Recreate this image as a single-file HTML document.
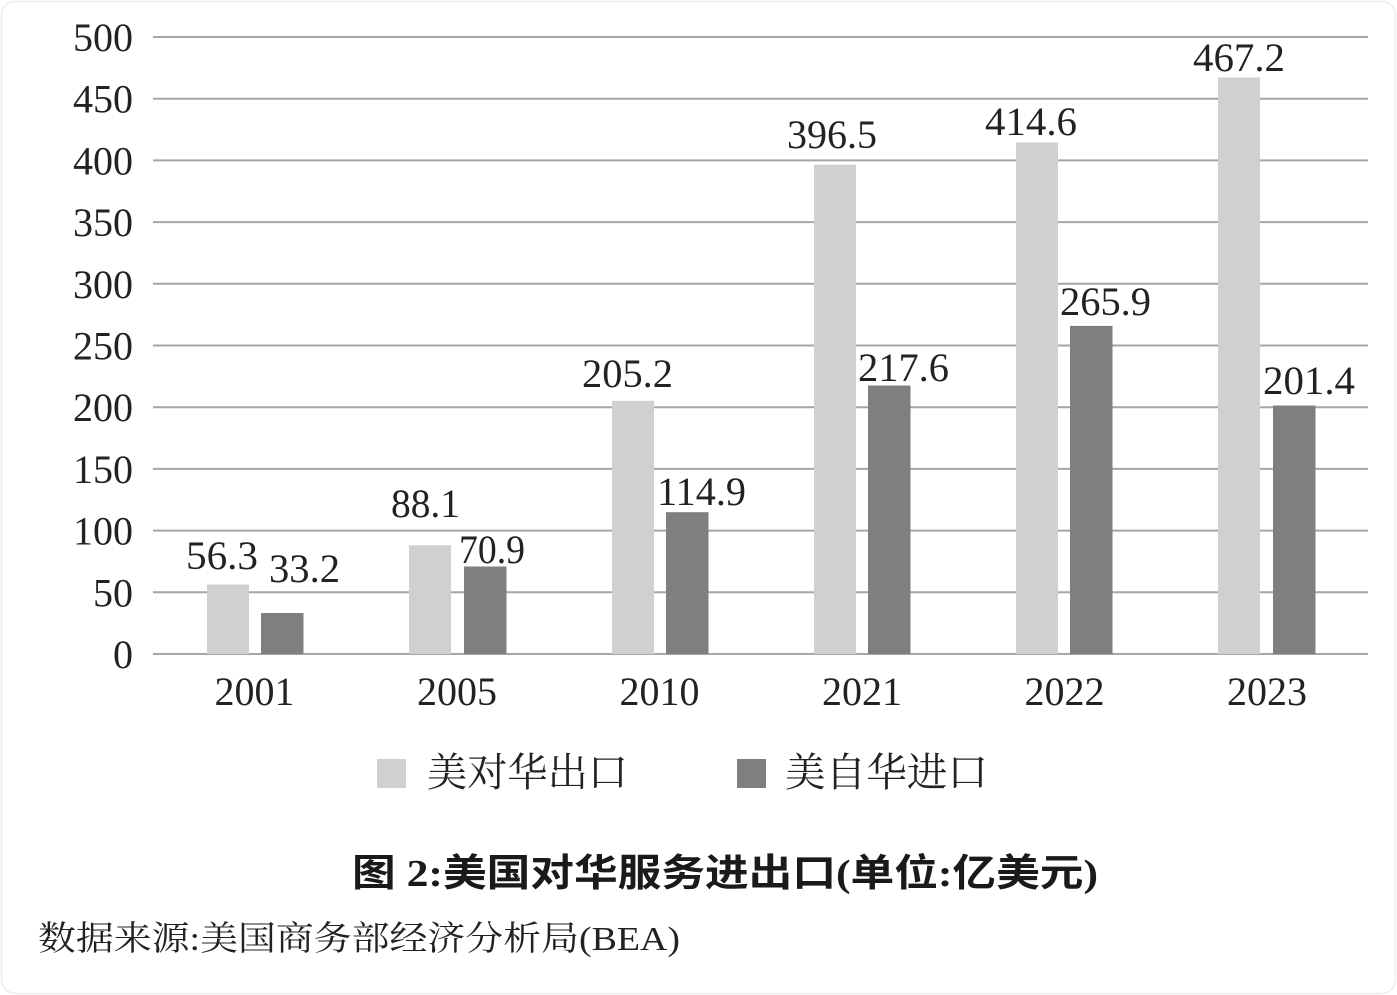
<!DOCTYPE html>
<html>
<head>
<meta charset="utf-8">
<style>
html,body{margin:0;padding:0;background:#fff;}
body{width:1397px;height:995px;overflow:hidden;}
svg{display:block;}
</style>
</head>
<body>
<svg width="1397" height="995" viewBox="0 0 1397 995" xmlns="http://www.w3.org/2000/svg">
  <rect x="1.5" y="1.5" width="1394" height="992" rx="14" ry="14" fill="#fff" stroke="#ececec" stroke-width="1.5"/>

  <!-- gridlines -->
  <g stroke="#a6a6a6" stroke-width="2">
    <line x1="153" y1="37" x2="1368" y2="37"/>
    <line x1="153" y1="98.7" x2="1368" y2="98.7"/>
    <line x1="153" y1="160.4" x2="1368" y2="160.4"/>
    <line x1="153" y1="222.1" x2="1368" y2="222.1"/>
    <line x1="153" y1="283.8" x2="1368" y2="283.8"/>
    <line x1="153" y1="345.5" x2="1368" y2="345.5"/>
    <line x1="153" y1="407.2" x2="1368" y2="407.2"/>
    <line x1="153" y1="468.9" x2="1368" y2="468.9"/>
    <line x1="153" y1="530.6" x2="1368" y2="530.6"/>
    <line x1="153" y1="592.3" x2="1368" y2="592.3"/>
    <line x1="153" y1="654" x2="1368" y2="654"/>
  </g>

  <!-- y axis labels -->
  <g font-family="'Liberation Serif', serif" font-size="40" fill="#222" text-anchor="end">
    <text x="133" y="51">500</text>
    <text x="133" y="112.7">450</text>
    <text x="133" y="174.4">400</text>
    <text x="133" y="236.1">350</text>
    <text x="133" y="297.8">300</text>
    <text x="133" y="359.5">250</text>
    <text x="133" y="421.2">200</text>
    <text x="133" y="482.9">150</text>
    <text x="133" y="544.6">100</text>
    <text x="133" y="606.3">50</text>
    <text x="133" y="668">0</text>
  </g>

  <!-- bars light -->
  <g fill="#d0d0d0">
    <rect x="207" y="584.5" width="42" height="69.5"/>
    <rect x="409" y="545.3" width="42" height="108.7"/>
    <rect x="612" y="400.8" width="42" height="253.2"/>
    <rect x="814" y="164.7" width="42" height="489.3"/>
    <rect x="1016" y="142.4" width="42" height="511.6"/>
    <rect x="1218" y="77.5" width="42" height="576.5"/>
  </g>
  <!-- bars dark -->
  <g fill="#7f7f7f">
    <rect x="261" y="613" width="42.5" height="41"/>
    <rect x="464" y="566.5" width="42.5" height="87.5"/>
    <rect x="666" y="512.2" width="42.5" height="141.8"/>
    <rect x="868" y="385.5" width="42.5" height="268.5"/>
    <rect x="1070" y="325.9" width="42.5" height="328.1"/>
    <rect x="1273" y="405.5" width="42.5" height="248.5"/>
  </g>

  <!-- data labels -->
  <g font-family="'Liberation Serif', serif" font-size="40" fill="#222">
    <text x="186" y="569" textLength="72" lengthAdjust="spacingAndGlyphs">56.3</text>
    <text x="269" y="582" textLength="71" lengthAdjust="spacingAndGlyphs">33.2</text>
    <text x="391" y="517" textLength="69" lengthAdjust="spacingAndGlyphs">88.1</text>
    <text x="459" y="563" textLength="66" lengthAdjust="spacingAndGlyphs">70.9</text>
    <text x="582" y="387" textLength="91" lengthAdjust="spacingAndGlyphs">205.2</text>
    <text x="657" y="505" textLength="89" lengthAdjust="spacingAndGlyphs">114.9</text>
    <text x="787" y="148" textLength="90" lengthAdjust="spacingAndGlyphs">396.5</text>
    <text x="858" y="381" textLength="91" lengthAdjust="spacingAndGlyphs">217.6</text>
    <text x="985" y="135" textLength="92" lengthAdjust="spacingAndGlyphs">414.6</text>
    <text x="1060" y="315" textLength="91" lengthAdjust="spacingAndGlyphs">265.9</text>
    <text x="1193" y="71" textLength="92" lengthAdjust="spacingAndGlyphs">467.2</text>
    <text x="1263" y="394" textLength="92" lengthAdjust="spacingAndGlyphs">201.4</text>
  </g>

  <!-- x axis labels -->
  <g font-family="'Liberation Serif', serif" font-size="40" fill="#222" text-anchor="middle">
    <text x="254.5" y="705">2001</text>
    <text x="457" y="705">2005</text>
    <text x="659.5" y="705">2010</text>
    <text x="862" y="705">2021</text>
    <text x="1064.5" y="705">2022</text>
    <text x="1267" y="705">2023</text>
  </g>

  <!-- legend -->
  <rect x="377" y="759" width="29" height="29" fill="#d0d0d0"/>
  <text x="427" y="786" font-family="'Liberation Serif','Noto Serif CJK SC','Noto Sans CJK SC',serif" font-size="40" fill="#222" textLength="201" lengthAdjust="spacingAndGlyphs">美对华出口</text>
  <rect x="737" y="759" width="29" height="29" fill="#7f7f7f"/>
  <text x="785" y="786" font-family="'Liberation Serif','Noto Serif CJK SC','Noto Sans CJK SC',serif" font-size="40" fill="#222" textLength="203" lengthAdjust="spacingAndGlyphs">美自华进口</text>

  <!-- title -->
  <text x="352" y="886" font-family="'Liberation Serif','Noto Sans CJK SC',sans-serif" font-size="38" font-weight="bold" fill="#1a1a1a" textLength="746" lengthAdjust="spacingAndGlyphs">图 2:美国对华服务进出口(单位:亿美元)</text>

  <!-- source -->
  <text x="38" y="950" font-family="'Liberation Serif','Noto Serif CJK SC',serif" font-size="34" fill="#222" textLength="642" lengthAdjust="spacingAndGlyphs">数据来源:美国商务部经济分析局(BEA)</text>
</svg>
</body>
</html>
